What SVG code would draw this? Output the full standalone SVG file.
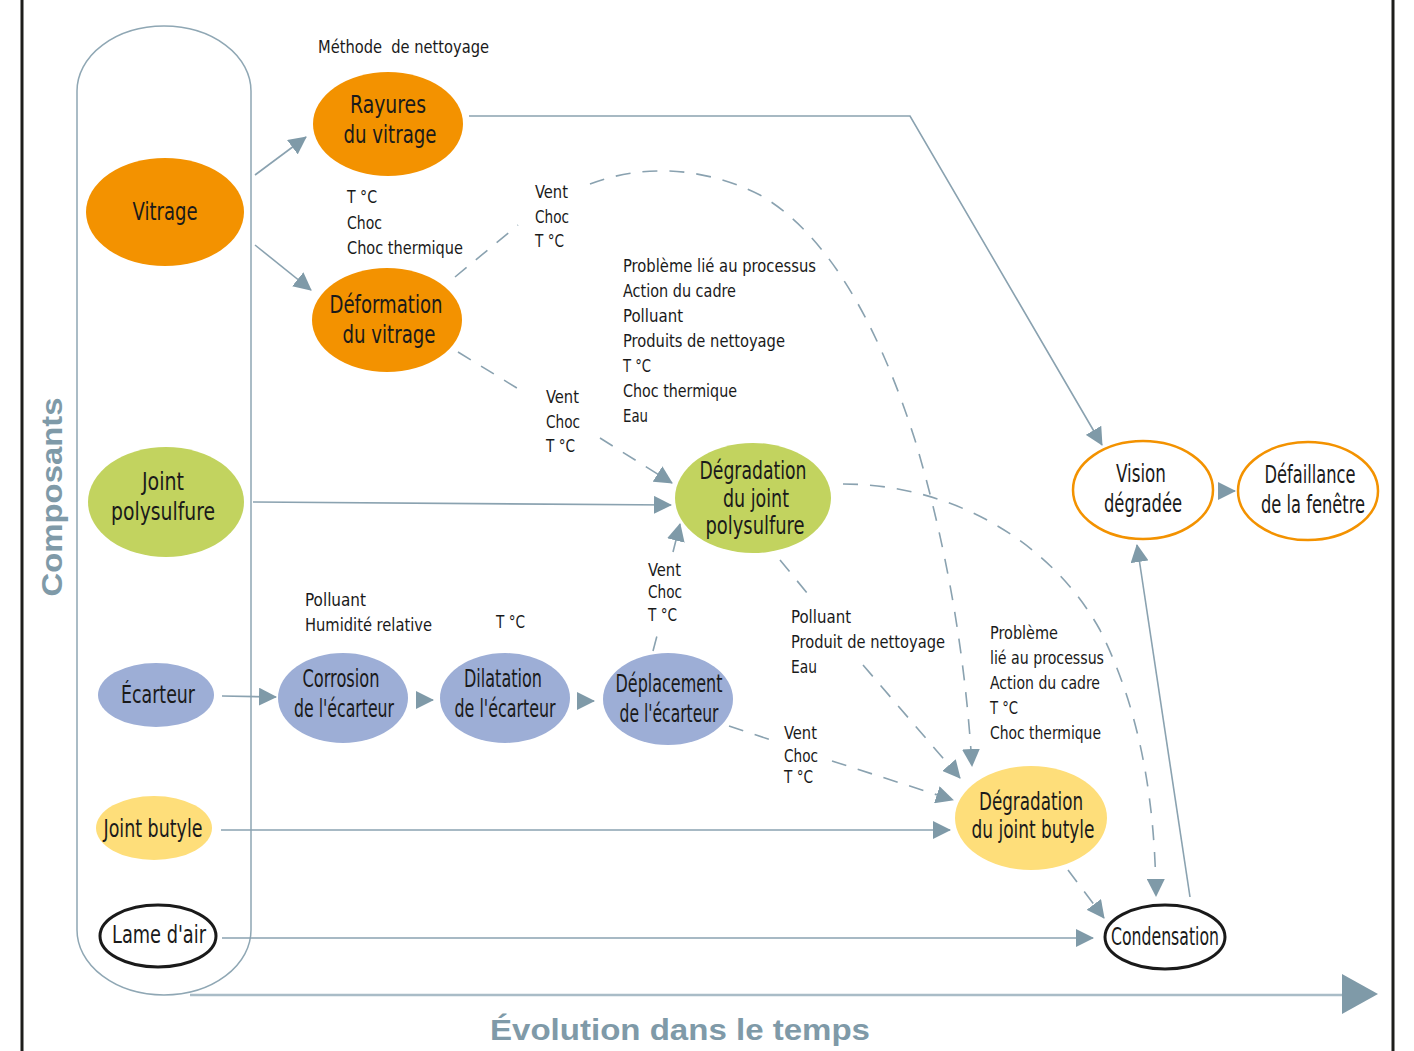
<svg xmlns="http://www.w3.org/2000/svg" width="1414" height="1051" viewBox="0 0 1414 1051">
<defs>
<style>
.t{font-family:"DejaVu Sans Condensed","DejaVu Sans",sans-serif;fill:#1a1a1a;text-anchor:middle;font-size:24px}
.l{font-family:"DejaVu Sans Condensed","DejaVu Sans",sans-serif;fill:#1a1a1a;font-size:18px}
.ax{font-family:"Liberation Sans",Arial,sans-serif;font-weight:bold;fill:#7f9aa8;font-size:30px;text-anchor:middle}
.c{fill:none;stroke:#8aa2b0;stroke-width:1.6}
.d{stroke-dasharray:15 12}
.or{fill:#f39200}.gr{fill:#c2d35f}.bl{fill:#9daed6}.ye{fill:#fede7a}
.wk{fill:#fff;stroke:#1a1a1a;stroke-width:3}
.wo{fill:#fff;stroke:#f39200;stroke-width:2.5}
</style>
<marker id="a" markerUnits="userSpaceOnUse" markerWidth="18" markerHeight="18" viewBox="0 0 18 18" refX="17" refY="9" orient="auto"><path d="M0,0 L18,9 L0,18 z" fill="#7f9aa8"/></marker>
</defs>
<rect width="1414" height="1051" fill="#fff"/>
<g id="frame">
<line x1="22" y1="0" x2="22" y2="1051" stroke="#1d1d1b" stroke-width="3"/>
<line x1="1393" y1="0" x2="1393" y2="1051" stroke="#1d1d1b" stroke-width="3"/>
<rect x="77" y="26" width="174" height="969" rx="87" ry="65" fill="none" stroke="#8fa7b4" stroke-width="1.5"/>
<line x1="190" y1="995" x2="1345" y2="995" stroke="#a9bcc7" stroke-width="2.5"/>
<polygon points="1342,974 1378,994 1342,1014" fill="#7f9aa8"/>
<text class="ax" x="680" y="1040" textLength="380" lengthAdjust="spacingAndGlyphs">Évolution dans le temps</text>
<text class="ax" transform="translate(62,497) rotate(-90)" textLength="199" lengthAdjust="spacingAndGlyphs">Composants</text>
</g>
<g id="connectors">
<path class="c" d="M255,175 L306,137" marker-end="url(#a)"/>
<path class="c" d="M255,245 L311,290" marker-end="url(#a)"/>
<path class="c" d="M469,116 L910,116 L1102,445" marker-end="url(#a)"/>
<path class="c" d="M253,502 L671,505" marker-end="url(#a)"/>
<path class="c" d="M222,696 L276,697" marker-end="url(#a)"/>
<path class="c" d="M418,700 L433,700" marker-end="url(#a)"/>
<path class="c" d="M580,701 L594,701" marker-end="url(#a)"/>
<path class="c" d="M221,830 L950,830" marker-end="url(#a)"/>
<path class="c" d="M222,938 L1093,938" marker-end="url(#a)"/>
<path class="c" d="M1190,897 L1137,545" marker-end="url(#a)"/>
<path class="c" d="M1220,491 L1235,491" marker-end="url(#a)"/>
<path class="c d" d="M455,277 L518,225"/>
<path class="c d" d="M590,184 C640,165 700,165 760,195 C830,235 880,330 915,440 C945,540 965,650 972,766" marker-end="url(#a)"/>
<path class="c d" d="M458,352 L525,393"/>
<path class="c d" d="M600,438 L672,483" marker-end="url(#a)"/>
<path class="c d" d="M653,651 L658,632"/>
<path class="c d" d="M673,552 L680,524" marker-end="url(#a)"/>
<path class="c d" d="M780,560 L812,599"/>
<path class="c d" d="M863,665 L960,778" marker-end="url(#a)"/>
<path class="c d" d="M843,484 C950,484 1050,540 1100,630 C1140,710 1155,800 1156,896" marker-end="url(#a)"/>
<path class="c d" d="M729,726 L777,742"/>
<path class="c d" d="M832,761 L953,800" marker-end="url(#a)"/>
<path class="c d" d="M1068,870 L1104,918" marker-end="url(#a)"/>
</g>
<g id="labels">
<text class="l" x="318" y="53" textLength="171" lengthAdjust="spacingAndGlyphs" xml:space="preserve">Méthode  de nettoyage</text>
<text class="l" x="347" y="203" textLength="30" lengthAdjust="spacingAndGlyphs">T °C</text>
<text class="l" x="347" y="229" textLength="35" lengthAdjust="spacingAndGlyphs">Choc</text>
<text class="l" x="347" y="254" textLength="116" lengthAdjust="spacingAndGlyphs">Choc thermique</text>
<text class="l" x="535" y="198" textLength="33" lengthAdjust="spacingAndGlyphs">Vent</text>
<text class="l" x="535" y="223" textLength="34" lengthAdjust="spacingAndGlyphs">Choc</text>
<text class="l" x="535" y="247" textLength="29" lengthAdjust="spacingAndGlyphs">T °C</text>
<text class="l" x="623" y="272" textLength="193" lengthAdjust="spacingAndGlyphs">Problème lié au processus</text>
<text class="l" x="623" y="297" textLength="113" lengthAdjust="spacingAndGlyphs">Action du cadre</text>
<text class="l" x="623" y="322" textLength="60" lengthAdjust="spacingAndGlyphs">Polluant</text>
<text class="l" x="623" y="347" textLength="162" lengthAdjust="spacingAndGlyphs">Produits de nettoyage</text>
<text class="l" x="623" y="372" textLength="28" lengthAdjust="spacingAndGlyphs">T °C</text>
<text class="l" x="623" y="397" textLength="114" lengthAdjust="spacingAndGlyphs">Choc thermique</text>
<text class="l" x="623" y="422" textLength="25" lengthAdjust="spacingAndGlyphs">Eau</text>
<text class="l" x="546" y="403" textLength="33" lengthAdjust="spacingAndGlyphs">Vent</text>
<text class="l" x="546" y="428" textLength="34" lengthAdjust="spacingAndGlyphs">Choc</text>
<text class="l" x="546" y="452" textLength="29" lengthAdjust="spacingAndGlyphs">T °C</text>
<text class="l" x="305" y="606" textLength="61" lengthAdjust="spacingAndGlyphs">Polluant</text>
<text class="l" x="305" y="631" textLength="127" lengthAdjust="spacingAndGlyphs">Humidité relative</text>
<text class="l" x="496" y="628" textLength="29" lengthAdjust="spacingAndGlyphs">T °C</text>
<text class="l" x="648" y="576" textLength="33" lengthAdjust="spacingAndGlyphs">Vent</text>
<text class="l" x="648" y="598" textLength="34" lengthAdjust="spacingAndGlyphs">Choc</text>
<text class="l" x="648" y="621" textLength="29" lengthAdjust="spacingAndGlyphs">T °C</text>
<text class="l" x="791" y="623" textLength="60" lengthAdjust="spacingAndGlyphs">Polluant</text>
<text class="l" x="791" y="648" textLength="154" lengthAdjust="spacingAndGlyphs">Produit de nettoyage</text>
<text class="l" x="791" y="673" textLength="26" lengthAdjust="spacingAndGlyphs">Eau</text>
<text class="l" x="990" y="639" textLength="68" lengthAdjust="spacingAndGlyphs">Problème</text>
<text class="l" x="990" y="664" textLength="114" lengthAdjust="spacingAndGlyphs">lié au processus</text>
<text class="l" x="990" y="689" textLength="110" lengthAdjust="spacingAndGlyphs">Action du cadre</text>
<text class="l" x="990" y="714" textLength="28" lengthAdjust="spacingAndGlyphs">T °C</text>
<text class="l" x="990" y="739" textLength="111" lengthAdjust="spacingAndGlyphs">Choc thermique</text>
<text class="l" x="784" y="739" textLength="33" lengthAdjust="spacingAndGlyphs">Vent</text>
<text class="l" x="784" y="762" textLength="34" lengthAdjust="spacingAndGlyphs">Choc</text>
<text class="l" x="784" y="783" textLength="29" lengthAdjust="spacingAndGlyphs">T °C</text>
</g>
<g id="vitrage"><ellipse class="or" cx="165" cy="212" rx="79" ry="54"/><text class="t" x="165" y="220" textLength="65" lengthAdjust="spacingAndGlyphs">Vitrage</text></g>
<g id="rayures"><ellipse class="or" cx="388" cy="124" rx="75" ry="52"/><text class="t" x="388" y="113" textLength="76" lengthAdjust="spacingAndGlyphs">Rayures</text><text class="t" x="390" y="143" textLength="93" lengthAdjust="spacingAndGlyphs">du vitrage</text></g>
<g id="deformation"><ellipse class="or" cx="387" cy="320" rx="75" ry="52"/><text class="t" x="386" y="313" textLength="113" lengthAdjust="spacingAndGlyphs">Déformation</text><text class="t" x="389" y="343" textLength="93" lengthAdjust="spacingAndGlyphs">du vitrage</text></g>
<g id="joint-polysulfure"><ellipse class="gr" cx="166" cy="502" rx="78" ry="55"/><text class="t" x="163" y="490" textLength="42" lengthAdjust="spacingAndGlyphs">Joint</text><text class="t" x="163" y="520" textLength="104" lengthAdjust="spacingAndGlyphs">polysulfure</text></g>
<g id="degradation-polysulfure"><ellipse class="gr" cx="753" cy="498" rx="78" ry="55"/><text class="t" x="753" y="479" textLength="107" lengthAdjust="spacingAndGlyphs">Dégradation</text><text class="t" x="756" y="507" textLength="66" lengthAdjust="spacingAndGlyphs">du joint</text><text class="t" x="755" y="534" textLength="99" lengthAdjust="spacingAndGlyphs">polysulfure</text></g>
<g id="ecarteur"><ellipse class="bl" cx="156" cy="695" rx="58" ry="32"/><text class="t" x="158" y="703" textLength="74" lengthAdjust="spacingAndGlyphs">Écarteur</text></g>
<g id="corrosion"><ellipse class="bl" cx="343" cy="698" rx="65" ry="45"/><text class="t" x="341" y="687" textLength="77" lengthAdjust="spacingAndGlyphs">Corrosion</text><text class="t" x="344" y="717" textLength="100" lengthAdjust="spacingAndGlyphs">de l'écarteur</text></g>
<g id="dilatation"><ellipse class="bl" cx="505" cy="698" rx="65" ry="45"/><text class="t" x="503" y="687" textLength="78" lengthAdjust="spacingAndGlyphs">Dilatation</text><text class="t" x="505" y="717" textLength="101" lengthAdjust="spacingAndGlyphs">de l'écarteur</text></g>
<g id="deplacement"><ellipse class="bl" cx="668" cy="699" rx="65" ry="46"/><text class="t" x="669" y="692" textLength="107" lengthAdjust="spacingAndGlyphs">Déplacement</text><text class="t" x="669" y="722" textLength="99" lengthAdjust="spacingAndGlyphs">de l'écarteur</text></g>
<g id="joint-butyle"><ellipse class="ye" cx="154" cy="828" rx="58" ry="32"/><text class="t" x="153" y="837" textLength="99" lengthAdjust="spacingAndGlyphs">Joint butyle</text></g>
<g id="lame-air"><ellipse class="wk" cx="158" cy="936" rx="58" ry="31"/><text class="t" x="159" y="943" textLength="94" lengthAdjust="spacingAndGlyphs">Lame d'air</text></g>
<g id="degradation-butyle"><ellipse class="ye" cx="1031" cy="818" rx="76" ry="52"/><text class="t" x="1031" y="810" textLength="104" lengthAdjust="spacingAndGlyphs">Dégradation</text><text class="t" x="1033" y="838" textLength="123" lengthAdjust="spacingAndGlyphs">du joint butyle</text></g>
<g id="condensation"><ellipse class="wk" cx="1165" cy="937" rx="60" ry="32"/><text class="t" x="1165" y="945" textLength="108" lengthAdjust="spacingAndGlyphs">Condensation</text></g>
<g id="vision"><ellipse class="wo" cx="1143" cy="490" rx="70" ry="49"/><text class="t" x="1141" y="482" textLength="50" lengthAdjust="spacingAndGlyphs">Vision</text><text class="t" x="1143" y="512" textLength="78" lengthAdjust="spacingAndGlyphs">dégradée</text></g>
<g id="defaillance"><ellipse class="wo" cx="1308" cy="491" rx="70" ry="49"/><text class="t" x="1310" y="483" textLength="91" lengthAdjust="spacingAndGlyphs">Défaillance</text><text class="t" x="1313" y="513" textLength="104" lengthAdjust="spacingAndGlyphs">de la fenêtre</text></g>
</svg>
